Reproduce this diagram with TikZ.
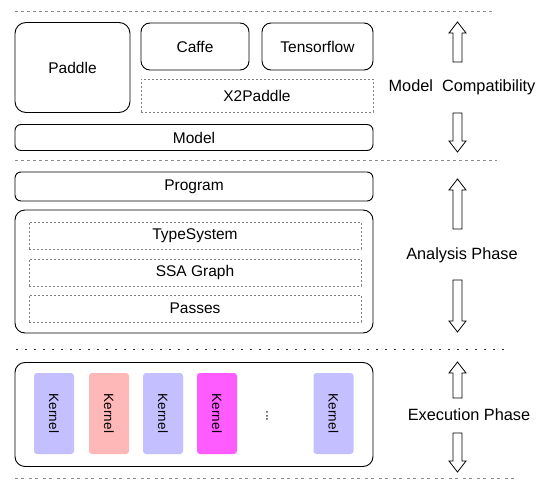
\documentclass[tikz,border=0pt]{standalone}
\usepackage{fontspec}
\setmainfont{Liberation Sans}
\definecolor{lav}{HTML}{C4BFFF}
\definecolor{pinkk}{HTML}{FFB8B8}
\definecolor{magk}{HTML}{FF5CFF}
\definecolor{sepgray}{HTML}{8C8C8C}
\newcommand\blockup[3]{\draw[arrowshape] (#1,#2) -- (#1+8.5,#2+11) -- (#1+4.5,#2+11) -- (#1+4.5,#3) -- (#1-4.5,#3) -- (#1-4.5,#2+11) -- (#1-8.5,#2+11) -- cycle;}
\newcommand\blockdown[3]{\draw[arrowshape] (#1,#3) -- (#1+8.5,#3-11) -- (#1+4.5,#3-11) -- (#1+4.5,#2) -- (#1-4.5,#2) -- (#1-4.5,#3-11) -- (#1-8.5,#3-11) -- cycle;}
\begin{document}
\begin{tikzpicture}[x=1pt,y=-1pt,
  box/.style={draw=black, line width=0.9pt, rounded corners=9pt, fill=white, inner sep=0pt, font=\fontsize{15.5}{18}\selectfont},
  dbox/.style={draw=gray, line width=0.7pt, dash pattern=on 2pt off 2pt, inner sep=0pt, font=\fontsize{15.5}{18}\selectfont},
  kern/.style={fill=#1, draw=none, rounded corners=3pt, minimum width=40pt, minimum height=81pt, inner sep=0pt},
  ktext/.style={rotate=-90, font=\fontsize{13.5}{16}\selectfont},
  side/.style={font=\fontsize{16.3}{19}\selectfont},
  arrowshape/.style={draw=black, line width=0.8pt, fill=white},
  sep/.style={draw=sepgray, line width=0.7pt}]
\useasboundingbox (0,0) rectangle (541,500);
% separators
\draw[sep, dash pattern=on 3pt off 3pt] (15,11) -- (493,11);
\draw[sep, dash pattern=on 3pt off 3pt] (15,160) -- (497,160);
\draw[draw=black!80, line width=0.8pt, dash pattern=on 2pt off 7pt] (16,349) -- (510,349);
\draw[sep, dash pattern=on 3pt off 3pt on 3pt off 5pt] (15,478) -- (515,478);
% model compatibility layer
\node[box, rounded corners=11pt, minimum width=115pt, minimum height=90pt] (paddle) at (72.5,67.5) {Paddle};
\node[box, minimum width=108pt, minimum height=47pt] (caffe) at (195,46.5) {Caffe};
\node[box, minimum width=111pt, minimum height=47pt] (tf) at (317.5,46.5) {Tensorflow};
\node[dbox, minimum width=232pt, minimum height=33pt] (x2p) at (257,95.5) {X2Paddle};
\node[box, rounded corners=6pt, minimum width=358pt, minimum height=26pt] (model) at (194,137.5) {Model};
% analysis layer
\node[box, rounded corners=6pt, minimum width=358pt, minimum height=29pt] (program) at (194,186.5) {Program};
\node[box, rounded corners=10pt, minimum width=358pt, minimum height=123pt] (analysis) at (194,271.5) {};
\node[dbox, minimum width=332pt, minimum height=27pt] (ts) at (195,235.5) {TypeSystem};
\node[dbox, minimum width=332pt, minimum height=27pt] (ssa) at (195,272.5) {SSA Graph};
\node[dbox, minimum width=332pt, minimum height=27pt] (passes) at (195,308.5) {Passes};
% execution layer
\node[box, rounded corners=10pt, minimum width=358pt, minimum height=104pt] (exec) at (194,414.5) {};
\node[kern=lav] (k1) at (54,413.5) {};
\node[kern=pinkk] (k2) at (109,413.5) {};
\node[kern=lav] (k3) at (163,413.5) {};
\node[kern=magk] (k4) at (217,413.5) {};
\node[kern=lav] (k5) at (333.5,413.5) {};
\node[ktext] at (k1) {Kernel};
\node[ktext] at (k2) {Kernel};
\node[ktext] at (k3) {Kernel};
\node[ktext] at (k4) {Kernel};
\node[ktext] at (k5) {Kernel};
\node[ktext] (dots) at (267,416) {...};
% side labels
\node[side] (lmc) at (462,87) {Model\ \ Compatibility};
\node[side] (lap) at (462,255) {Analysis Phase};
\node[side] (lep) at (469,415) {Execution Phase};
% block arrows
\blockup{457.5}{22}{62}
\blockdown{457.5}{113}{152}
\blockup{457.5}{179}{229}
\blockdown{457.5}{280}{332}
\blockup{457.5}{362}{398}
\blockdown{457.5}{433}{472}
\end{tikzpicture}
\end{document}
